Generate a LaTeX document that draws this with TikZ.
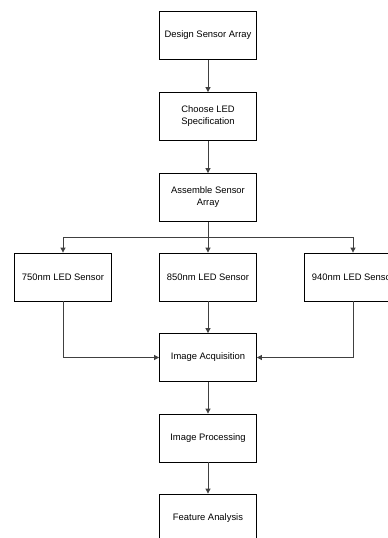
\documentclass[tikz,border=0pt]{standalone}
\usepackage{fontspec}
\setmainfont{Liberation Sans}
\usetikzlibrary{arrows.meta}
\begin{document}
\begin{tikzpicture}[x=1pt,y=1pt,
  box/.style={draw=black, line width=0.8pt, minimum width=97pt, minimum height=48pt,
    align=center, font=\fontsize{9.4}{12}\selectfont, inner sep=2pt},
  link/.style={draw=black!75, line width=0.8pt, -{Triangle[length=5pt,width=5pt]}}]
\useasboundingbox (0,0) rectangle (388,-538);
\clip (0,0) rectangle (388,-538);
\fill[white] (0,0) rectangle (388,-538);

\node[box] (design)  at (208,-35.5)  {Design Sensor Array};
\node[box] (choose)  at (208,-116.5) {Choose LED\\Specification};
\node[box] (assemble) at (208,-197.5) {Assemble Sensor\\Array};
\node[box] (s750)    at (63,-277)    {750nm LED Sensor};
\node[box] (s850)    at (208,-277)   {850nm LED Sensor};
\node[box] (s940)    at (353,-277)   {940nm LED Sensor};
\node[box] (acq)     at (208,-357.5) {Image Acquisition};
\node[box] (proc)    at (208,-438)   {Image Processing};
\node[box] (feat)    at (208,-518)   {Feature Analysis};

\coordinate (split) at (208,-237);

\draw[link] (design) -- (choose);
\draw[link] (choose) -- (assemble);
\draw[line width=0.8pt, draw=black!75] (assemble.south) -- (split);
\draw[link] (split) -| (s750.north);
\draw[link] (split) -- (s850.north);
\draw[link] (split) -| (s940.north);
\draw[link] (s750.south) |- (acq.west);
\draw[link] (s850) -- (acq);
\draw[link] (s940.south) |- (acq.east);
\draw[link] (acq) -- (proc);
\draw[link] (proc) -- (feat);
\end{tikzpicture}
\end{document}
